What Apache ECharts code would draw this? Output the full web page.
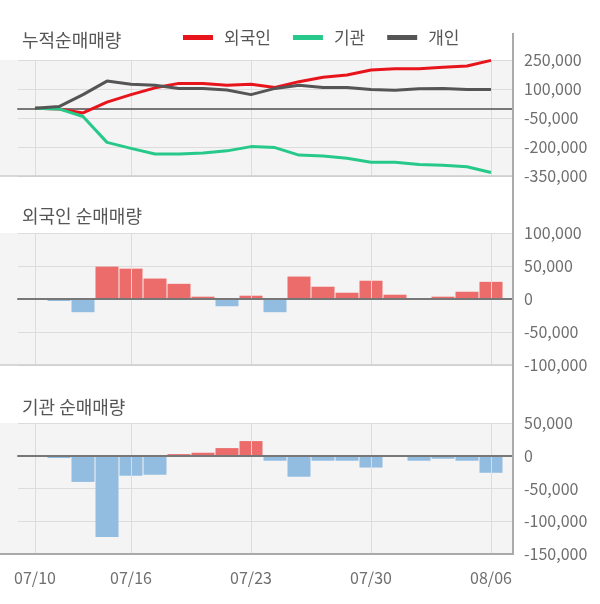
<!DOCTYPE html>
<html>
<head>
<meta charset="utf-8">
<script src="https://cdn.jsdelivr.net/npm/echarts@6/dist/echarts.min.js"></script>
<style>html,body{margin:0;padding:0;background:#fff}#c{width:600px;height:604px}</style>
</head>
<body>
<div id="c"></div>
<script>
const dates = ['07/10','07/11','07/12','07/13','07/16','07/17','07/18','07/19','07/20','07/23','07/24','07/25','07/26','07/27','07/30','07/31','08/01','08/02','08/03','08/06'];
const tickIdx = [0, 4, 9, 14, 19];
const seriesNames = ['외국인', '기관', '개인'];
const foreignCum = [0, -3000, -24000, 32000, 71000, 106000, 129000, 129000, 119000, 124000, 108000, 138000, 161000, 172000, 198000, 205000, 205000, 212000, 219000, 248000];
const instCum = [0, -3000, -42000, -176000, -207000, -236000, -236000, -231000, -220000, -198000, -203000, -242000, -247000, -258000, -279000, -279000, -290000, -295000, -302000, -332000];
const indivCum = [0, 9000, 71000, 141000, 124000, 119000, 103000, 103000, 95000, 71000, 103000, 119000, 108000, 108000, 97000, 94000, 101000, 103000, 97000, 97000];
const foreignNet = [0, -3000, -20000, 49000, 46000, 31000, 23000, 3500, -11000, 5000, -20000, 34000, 18600, 9500, 27700, 6500, 0, 3500, 11000, 26000];
const instNet = [0, -3500, -40000, -124000, -30500, -29000, 2500, 4600, 11700, 22400, -7600, -32000, -7600, -7600, -18000, 0, -7600, -4600, -7600, -26000];
const titles = ['누적순매매량', '외국인 순매매량', '기관 순매매량'];

const FONT = 'Noto Sans CJK KR';
const panels = [
  {top: 60, height: 116, min: -350000, max: 250000, interval: 150000},
  {top: 233, height: 132, min: -100000, max: 100000, interval: 50000},
  {top: 423, height: 131, min: -150000, max: 50000, interval: 50000}
];
const PLOT_RIGHT = 512;
const GRID_LEFT = 18;
const fmt = v => String(v).replace(/\B(?=(\d{3})+(?!\d))/g, ',');

const grids = panels.map(p => ({left: GRID_LEFT, width: PLOT_RIGHT - GRID_LEFT, top: p.top, height: p.height, containLabel: false}));
const xAxes = panels.map((p, k) => ({
  type: 'value', gridIndex: k, min: -0.708, max: 19.875,
  axisLine: {show: true, onZero: true, lineStyle: {color: '#777', width: 2}},
  z: 5,
  axisTick: {show: false, customValues: tickIdx},
  splitLine: {show: true, lineStyle: {color: '#dcdcdc', width: 1}},
  axisLabel: {show: k === 2, customValues: tickIdx, formatter: v => dates[Math.round(v)], color: '#6e6e6e', fontSize: 16, fontFamily: FONT, margin: 16}
}));
const yAxes = panels.map((p, k) => ({
  type: 'value', gridIndex: k, position: 'right', min: p.min, max: p.max, interval: p.interval,
  axisLine: {show: false}, axisTick: {show: false},
  splitLine: {show: true, lineStyle: {color: '#dcdcdc', width: 1}},
  axisLabel: {color: '#6e6e6e', fontSize: 16, fontFamily: FONT, margin: 12, formatter: fmt}
}));

const pair = arr => arr.map((v, i) => [i, v]);
const lineColors = ['#e8141c', '#27c98b', '#555555'];
const cums = [foreignCum, instCum, indivCum];
const series = cums.map((arr, k) => ({
  name: seriesNames[k], type: 'line', xAxisIndex: 0, yAxisIndex: 0,
  data: pair(arr), showSymbol: false, symbol: 'none',
  lineStyle: {color: lineColors[k], width: 3}, itemStyle: {color: lineColors[k]}, z: 6 + k
}));
const barColor = p => p.value[1] >= 0 ? '#ec6c6c' : '#92bde0';
series.push({type: 'bar', xAxisIndex: 1, yAxisIndex: 1, data: pair(foreignNet), barWidth: 23, itemStyle: {color: barColor}});
series.push({type: 'bar', xAxisIndex: 2, yAxisIndex: 2, data: pair(instNet), barWidth: 23, itemStyle: {color: barColor}});

const graphics = [];
panels.forEach((p, k) => {
  graphics.push({type: 'rect', z: -100, silent: true, shape: {x: 0, y: p.top, width: PLOT_RIGHT, height: p.height}, style: {fill: '#f4f4f4'}});
  graphics.push({type: 'line', z: 50, silent: true, shape: {x1: 0, y1: p.top + p.height, x2: PLOT_RIGHT, y2: p.top + p.height},
    style: {stroke: k === 2 ? '#aaaaaa' : '#cccccc', lineWidth: k === 2 ? 2 : 1.5}});
});
graphics.push({type: 'line', z: 50, silent: true, shape: {x1: PLOT_RIGHT + 1, y1: 33, x2: PLOT_RIGHT + 1, y2: panels[2].top + panels[2].height + 1}, style: {stroke: '#aaaaaa', lineWidth: 2}});

const titleTops = [31, 207, 398];
const option = {
  animation: false,
  backgroundColor: '#ffffff',
  textStyle: {fontFamily: FONT},
  title: titles.map((t, k) => ({text: t, left: 22, top: titleTops[k], padding: 0,
    textStyle: {fontSize: 18, fontWeight: 'normal', color: '#555', fontFamily: FONT}})),
  legend: {
    data: seriesNames, left: 183, top: 29, padding: 0, itemGap: 22,
    itemWidth: 30, itemHeight: 5, icon: 'rect',
    textStyle: {fontSize: 17, color: '#555', fontFamily: FONT, padding: [0, 0, 0, 6]}
  },
  grid: grids,
  xAxis: xAxes,
  yAxis: yAxes,
  graphic: graphics,
  series: series
};
const chart = echarts.init(document.getElementById('c'), null, {renderer: 'canvas'});
chart.setOption(option);
</script>
</body>
</html>
